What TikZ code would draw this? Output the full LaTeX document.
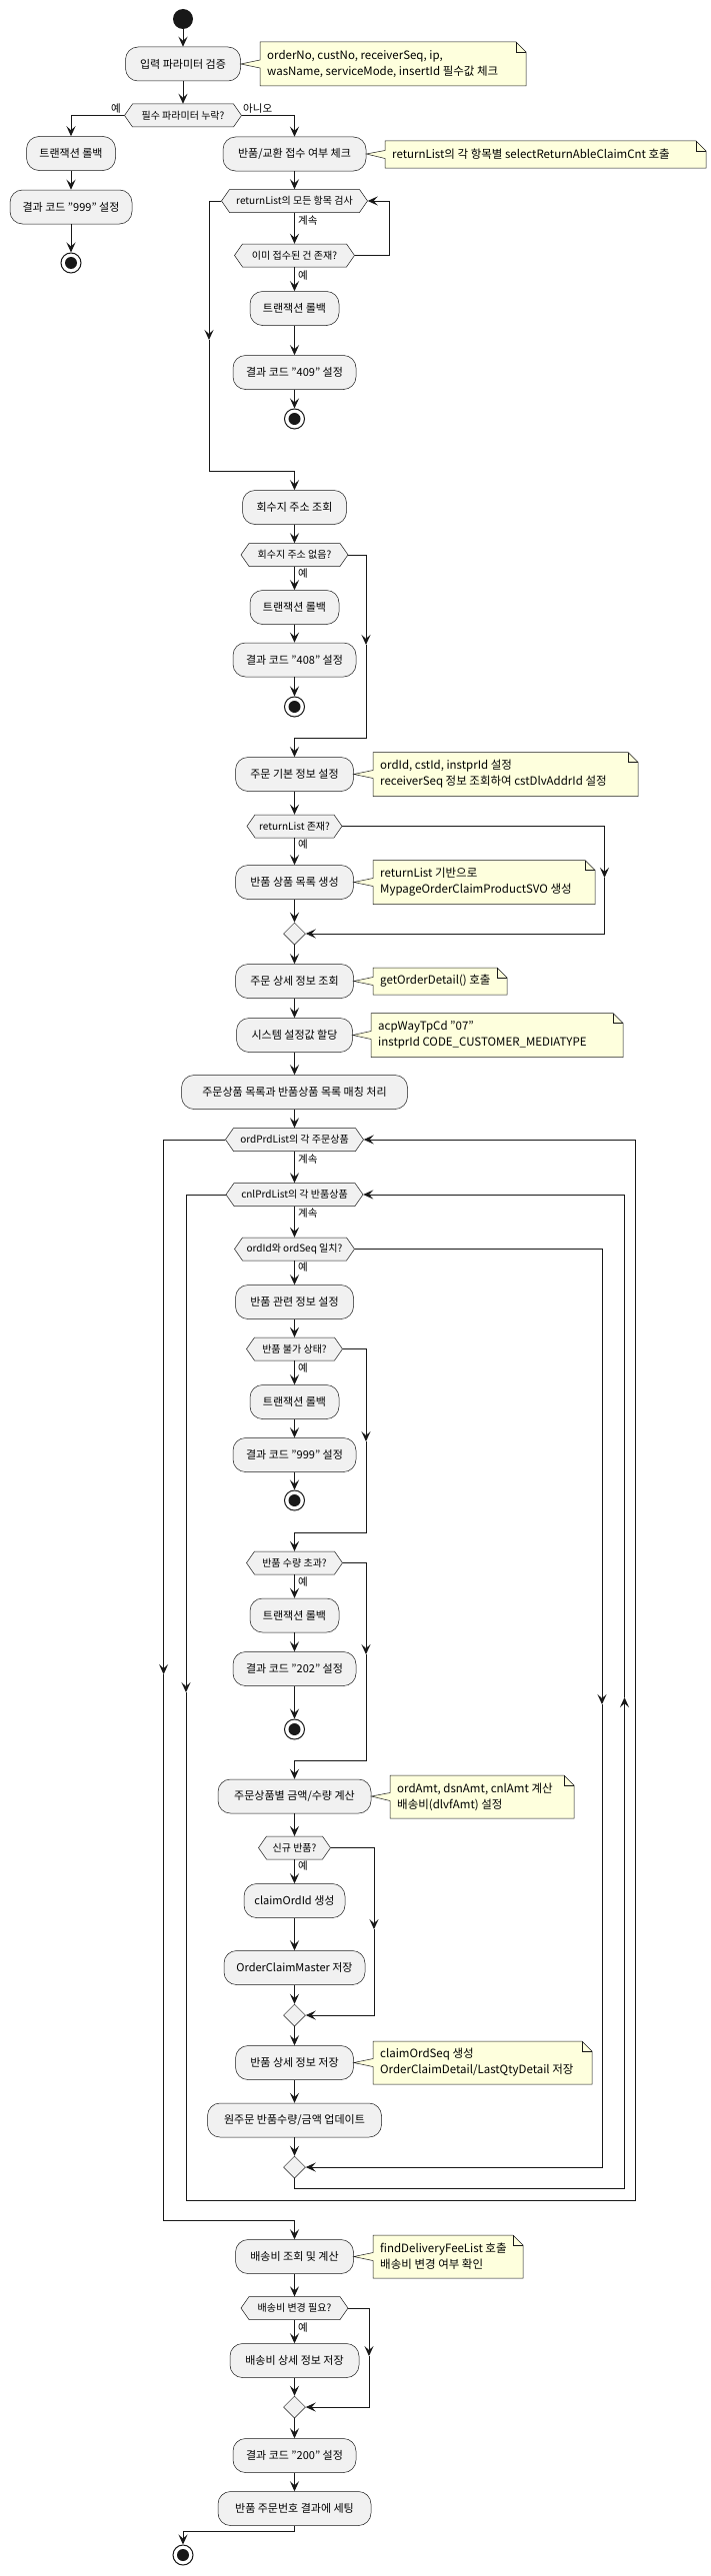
\documentclass[tikz,border=0pt]{standalone}
\usepackage{fontspec}
\setmainfont{Noto Sans CJK KR}
\usetikzlibrary{arrows.meta,shapes.geometric,calc}
\definecolor{umlline}{HTML}{181818}
\definecolor{umlbox}{HTML}{F1F1F1}
\definecolor{umlnote}{HTML}{FEFFDD}
\tikzset{
 act/.style={rectangle, rounded corners=12.5pt, draw=umlline, line width=0.5pt, fill=umlbox, minimum height=34pt, inner sep=0pt, font=\fontsize{11}{13}\selectfont, text=black},
 hextext/.style={rectangle, minimum height=23pt, inner sep=0pt, font=\fontsize{10}{12}\selectfont, text=black},
 hexshape/.style={draw=umlline, line width=0.5pt, fill=umlbox},
 merge/.style={diamond, draw=umlline, line width=0.5pt, fill=umlbox, minimum width=22pt, minimum height=22pt, inner sep=0pt},
 startnode/.style={circle, fill=umlline, minimum size=20pt, inner sep=0pt},
 endnode/.style={circle, draw=umlline, line width=1pt, fill=white, minimum size=20pt, inner sep=0pt, path picture={\fill[umlline] (path picture bounding box.center) circle (6pt);}},
 flow/.style={draw=umlline, line width=1pt, -{Stealth[length=10pt,width=9pt,inset=4pt]}},
 lbl/.style={font=\fontsize{10.5}{12}\selectfont, inner sep=0pt, text=black},
 notebg/.style={draw=umlline, line width=0.5pt, fill=umlnote},
 notetext/.style={font=\fontsize{11.5}{16}\selectfont, align=left, inner sep=0pt, anchor=west, text=black},
}
\newcommand\hexnode[5]{%
 \path[hexshape] (#2-#4/2,#3) -- (#2-#4/2+8,#3-11.5) -- (#2+#4/2-8,#3-11.5) -- (#2+#4/2,#3) -- (#2+#4/2-8,#3+11.5) -- (#2-#4/2+8,#3+11.5) -- cycle;
 \node[hextext, minimum width=#4] (#1) at (#2,#3) {#5};
}
\newcommand\mynote[7]{%
 \path[notebg] (#3,#5-#6/2) -- (#4-10,#5-#6/2) -- (#4,#5-#6/2+10) -- (#4,#5+#6/2) -- (#3,#5+#6/2) -- (#3,#5+4) -- (#2.east) -- (#3,#5-4) -- cycle;
 \draw[umlline, line width=0.5pt] (#4-10,#5-#6/2) -- (#4-10,#5-#6/2+10) -- (#4,#5-#6/2+10);
 \node[notetext] (#1) at (#3+7,#5) {#7};
}
\begin{document}
\begin{tikzpicture}[x=1pt,y=-1pt]
\useasboundingbox (0,0) rectangle (710,2577);
\fill[white] (0,0) rectangle (710,2577);

\node[startnode] (start) at (183,19) {};
\node[act, minimum width=115] (n1) at (183,64) {입력 파라미터 검증};
\mynote{t1}{n1}{260}{526}{64}{44}{orderNo, custNo, receiverSeq, ip,\\wasName, serviceMode, insertId 필수값 체크}
\hexnode{d1}{183}{115.5}{117}{필수 파라미터 누락?}
\node[lbl, anchor=east] at (121,109) {예};
\node[lbl, anchor=west] at (243,109) {아니오};

\node[act, minimum width=89] (l1) at (71,153.5) {트랜잭션 롤백};
\node[act, minimum width=122] (l2) at (71,207) {결과 코드 "999" 설정};
\node[endnode] (le) at (71,263) {};

\node[act, minimum width=143] (r1) at (294.5,154) {반품/교환 접수 여부 체크};
\mynote{t2}{r1}{385}{706}{154.5}{27}{returnList의 각 항목별 selectReturnAbleClaimCnt 호출}
\hexnode{lp1}{294.5}{201}{146}{returnList의 모든 항목 검사}
\node[lbl, anchor=west] at (298,221) {계속};
\hexnode{d2}{294.5}{255.5}{120}{이미 접수된 건 존재?}
\node[lbl, anchor=west] at (298,276) {예};
\node[act, minimum width=89] (b2) at (294.5,308.5) {트랜잭션 롤백};
\node[act, minimum width=123] (c2) at (294.5,372.5) {결과 코드 "409" 설정};
\node[endnode] (e2) at (294.5,419) {};

\node[act, minimum width=104] (n3) at (294.5,507.5) {회수지 주소 조회};
\hexnode{d3}{294.5}{555}{107}{회수지 주소 없음?}
\node[lbl, anchor=west] at (298,574) {예};
\node[act, minimum width=89] (b3) at (294.5,607.5) {트랜잭션 롤백};
\node[act, minimum width=123] (c3) at (294.5,660) {결과 코드 "408" 설정};
\node[endnode] (e3) at (294.5,707) {};

\node[act, minimum width=118] (n4) at (294.5,774.5) {주문 기본 정보 설정};
\mynote{t3}{n4}{373}{638}{774.5}{44}{ordId, cstId, instprId 설정\\receiverSeq 정보 조회하여 cstDlvAddrId 설정}
\hexnode{d4}{294.5}{826.5}{95}{returnList 존재?}
\node[lbl, anchor=west] at (298,845) {예};
\node[act, minimum width=118] (n5) at (294.5,882.5) {반품 상품 목록 생성};
\mynote{t4}{n5}{373}{595}{882.5}{44}{returnList 기반으로\\MypageOrderClaimProductSVO 생성}
\node[merge] (m1) at (294.5,934) {};
\node[act, minimum width=118] (n6) at (294.5,981.5) {주문 상세 정보 조회};
\mynote{t5}{n6}{373}{507}{981.5}{27}{getOrderDetail() 호출}
\node[act, minimum width=116] (n7) at (294.5,1035.5) {시스템 설정값 할당};
\mynote{t6}{n7}{371}{623}{1035.5}{44}{acpWayTpCd "07"\\instprId CODE\_CUSTOMER\_MEDIATYPE}
\node[act, minimum width=226] (n8) at (294.5,1092.5) {주문상품 목록과 반품상품 목록 매칭 처리};
\hexnode{lp2}{294.5}{1140}{138}{ordPrdList의 각 주문상품}
\node[lbl, anchor=west] at (298,1160) {계속};
\hexnode{lp3}{294.5}{1195}{137}{cnlPrdList의 각 반품상품}
\node[lbl, anchor=west] at (298,1214) {계속};
\hexnode{d5}{294.5}{1249.5}{120}{ordId와 ordSeq 일치?}
\node[lbl, anchor=west] at (298,1268) {예};
\node[act, minimum width=118] (n9) at (294.5,1302.5) {반품 관련 정보 설정};
\hexnode{d6}{294.5}{1349.5}{96}{반품 불가 상태?}
\node[lbl, anchor=west] at (298,1369) {예};
\node[act, minimum width=89] (b6) at (294.5,1402.5) {트랜잭션 롤백};
\node[act, minimum width=123] (c6) at (294.5,1455.5) {결과 코드 "999" 설정};
\node[endnode] (e6) at (294.5,1501) {};
\hexnode{d7}{294.5}{1563.5}{96}{반품 수량 초과?}
\node[lbl, anchor=west] at (298,1583) {예};
\node[act, minimum width=89] (b7) at (294.5,1616) {트랜잭션 롤백};
\node[act, minimum width=123] (c7) at (294.5,1669.5) {결과 코드 "202" 설정};
\node[endnode] (e7) at (294.5,1730) {};
\node[act, minimum width=153] (n10) at (294.5,1797) {주문상품별 금액/수량 계산};
\mynote{t7}{n10}{390}{574}{1797.5}{43}{ordAmt, dsnAmt, cnlAmt 계산\\배송비(dlvfAmt) 설정}
\hexnode{d8}{294.5}{1848.5}{72}{신규 반품?}
\node[lbl, anchor=west] at (298,1867) {예};
\node[act, minimum width=101] (n11) at (294.5,1901.5) {claimOrdId 생성};
\node[act, minimum width=141] (n12) at (294.5,1968.5) {OrderClaimMaster 저장};
\node[merge] (m2) at (294.5,2016) {};
\node[act, minimum width=118] (n13) at (294.5,2063.5) {반품 상세 정보 저장};
\mynote{t8}{n13}{373}{592}{2063.5}{43}{claimOrdSeq 생성\\OrderClaimDetail/LastQtyDetail 저장}
\node[act, minimum width=174] (n14) at (294.5,2121) {원주문 반품수량/금액 업데이트};
\node[merge] (m3) at (294.5,2168) {};
\node[act, minimum width=118] (n15) at (294.5,2257.5) {배송비 조회 및 계산};
\mynote{t9}{n15}{373}{523}{2257.5}{43}{findDeliveryFeeList 호출\\배송비 변경 여부 확인}
\hexnode{d9}{294.5}{2309}{107}{배송비 변경 필요?}
\node[lbl, anchor=west] at (298,2329) {예};
\node[act, minimum width=129] (n16) at (294.5,2361.5) {배송비 상세 정보 저장};
\node[merge] (m4) at (294.5,2408) {};
\node[act, minimum width=123] (n17) at (294.5,2456.5) {결과 코드 "200" 설정};
\node[act, minimum width=153] (n18) at (294.5,2509.5) {반품 주문번호 결과에 세팅};
\node[endnode] (eend) at (183,2556) {};

% connectors
\draw[flow] (start) -- (n1);
\draw[flow] (n1) -- (d1);
\draw[flow] (d1.west) -| (l1.north);
\draw[flow] (d1.east) -| (r1.north);
\draw[flow] (l1) -- (l2);
\draw[flow] (l2) -- (le);
\draw[flow] (r1) -- (lp1);
\draw[flow] (lp1) -- (d2);
\draw[flow] (d2) -- (b2);
\draw[flow] (b2) -- (c2);
\draw[flow] (c2) -- (e2);
\coordinate (lp1r) at (389,201);
\draw[flow] (d2.east) -| (lp1r) -- (lp1.east);
\coordinate (lp1l) at (209,201);
\coordinate (lp1a) at (209,340);
\coordinate (lp1b) at (209,471);
\draw[flow] (lp1.west) -- (lp1l) -- (lp1a);
\draw[flow] (lp1a) -- (lp1b) -| (n3.north);

\draw[flow] (n3) -- (d3);
\draw[flow] (d3) -- (b3);
\draw[flow] (b3) -- (c3);
\draw[flow] (c3) -- (e3);
\coordinate (d3a) at (366,645);
\coordinate (d3b) at (366,738);
\draw[flow] (d3.east) -| (d3a);
\draw[flow] (d3a) -- (d3b) -| (n4.north);

\draw[flow] (n4) -- (d4);
\draw[flow] (d4) -- (n5);
\draw[flow] (n5) -- (m1);
\coordinate (d4a) at (604.5,878);
\draw[flow] (d4.east) -| (d4a);
\draw[flow] (d4a) |- (m1.east);
\draw[flow] (m1) -- (n6);
\draw[flow] (n6) -- (n7);
\draw[flow] (n7) -- (n8);
\draw[flow] (n8) -- (lp2);
\draw[flow] (lp2) -- (lp3);
\draw[flow] (lp3) -- (d5);
\draw[flow] (d5) -- (n9);
\draw[flow] (n9) -- (d6);
\draw[flow] (d6) -- (b6);
\draw[flow] (b6) -- (c6);
\draw[flow] (c6) -- (e6);
\coordinate (d6a) at (366,1442);
\coordinate (d6b) at (366,1533);
\draw[flow] (d6.east) -| (d6a);
\draw[flow] (d6a) -- (d6b) -| (d7.north);
\draw[flow] (d7) -- (b7);
\draw[flow] (b7) -- (c7);
\draw[flow] (c7) -- (e7);
\coordinate (d7a) at (366,1655);
\coordinate (d7b) at (366,1761);
\draw[flow] (d7.east) -| (d7a);
\draw[flow] (d7a) -- (d7b) -| (n10.north);
\draw[flow] (n10) -- (d8);
\draw[flow] (d8) -- (n11);
\draw[flow] (n11) -- (n12);
\draw[flow] (n12) -- (m2);
\coordinate (d8a) at (374,1930);
\draw[flow] (d8.east) -| (d8a);
\draw[flow] (d8a) |- (m2.east);
\draw[flow] (m2) -- (n13);
\draw[flow] (n13) -- (n14);
\draw[flow] (n14) -- (m3);
\coordinate (d5a) at (602,1705);
\draw[flow] (d5.east) -| (d5a);
\draw[flow] (d5a) |- (m3.east);
% inner loop back
\coordinate (m3b) at (294.5,2189);
\coordinate (lp3ra) at (624.5,1698);
\coordinate (lp3r) at (624.5,1195);
\draw[flow] (m3.south) -- (m3b) -| (lp3ra);
\draw[flow] (lp3ra) -- (lp3r) -- (lp3.east);
% inner loop exit
\coordinate (lp3l) at (186,1195);
\coordinate (lp3la) at (186,1693);
\coordinate (lp3lb) at (186,2201);
\coordinate (lp2r) at (635.5,1140);
\draw[flow] (lp3.west) -- (lp3l) -- (lp3la);
\draw[flow] (lp3la) -- (lp3lb) -| (lp2r) -- (lp2.east);
% outer loop exit
\coordinate (lp2l) at (163.6,1140);
\coordinate (lp2la) at (163.6,1675);
\coordinate (lp2lb) at (163.6,2221);
\draw[flow] (lp2.west) -- (lp2l) -- (lp2la);
\draw[flow] (lp2la) -- (lp2lb) -| (n15.north);
\draw[flow] (n15) -- (d9);
\draw[flow] (d9) -- (n16);
\draw[flow] (n16) -- (m4);
\coordinate (d9a) at (369,2357);
\draw[flow] (d9.east) -| (d9a);
\draw[flow] (d9a) |- (m4.east);
\draw[flow] (m4) -- (n17);
\draw[flow] (n17) -- (n18);
\coordinate (n18b) at (294.5,2532);
\draw[flow] (n18.south) -- (n18b) -| (eend.north);
\end{tikzpicture}
\end{document}
